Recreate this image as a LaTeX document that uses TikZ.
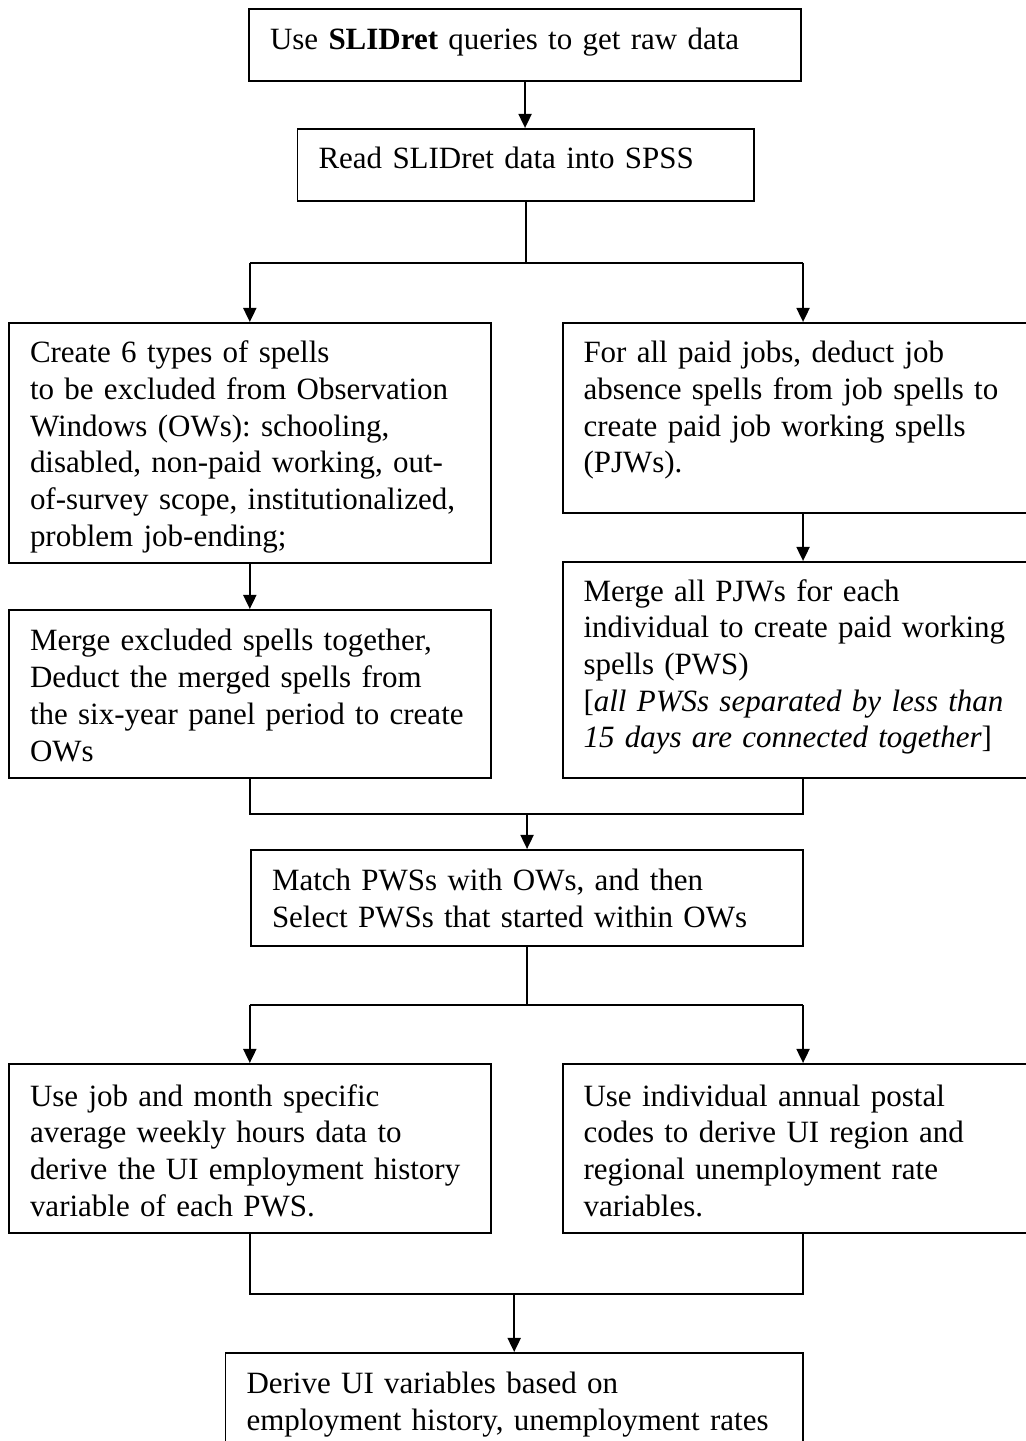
\documentclass[tikz,border=0pt]{standalone}
\usepackage{fontspec}
\setmainfont{Liberation Serif}
\usetikzlibrary{arrows.meta}
\hyphenpenalty=10000
\exhyphenpenalty=10000
\frenchspacing
\tikzset{
	box/.style={draw, line width=0.75pt, anchor=north west, align=left, inner xsep=7.9pt, inner ysep=0pt, font=\fontsize{11.65}{13.8}\selectfont},
	arr/.style={line width=0.75pt, -{Triangle[length=5.3pt,width=4.9pt]}},
	lnk/.style={line width=0.75pt}
}

\begin{document}
\begin{tikzpicture}[x=0.376pt, y=-0.376pt]
			%%%%% START %%%%%
			\useasboundingbox (0,0) rectangle (1026,1441);
			\clip (0,0) rectangle (1026,1441);
			
			\node[box, text width=191.8pt, text height=15.4pt, text depth=11.7pt] (query) at (248,8) {Use \textbf{SLIDret} queries to get raw data};
			\node[box, text width=155.9pt, text height=15.0pt, text depth=12.0pt] (spss) at (296.5,128) {Read SLIDret data into SPSS};
			
			\node[box, text width=165.3pt, text height=15.0pt, text depth=75.2pt] (excl) at (8,322) {Create 6 types of spells\\to be excluded from Observation\\Windows (OWs): schooling,\\disabled, non-paid working, out-\\of-survey scope, institutionalized,\\problem job-ending;};
			\node[box, text width=165.1pt, text height=15.0pt, text depth=56.4pt] (pjw) at (561.5,322) {For all paid jobs, deduct job\\absence spells from job spells to\\create paid job working spells\\(PJWs).};
			
			\node[box, text width=165.3pt, text height=15.4pt, text depth=47.8pt] (ows) at (8,609) {Merge excluded spells together,\\Deduct the merged spells from\\the six-year panel period to create\\OWs};
			\node[box, text width=165.1pt, text height=14.7pt, text depth=66.6pt] (pws) at (561.5,561) {Merge all PJWs for each\\individual to create paid working\\spells (PWS)\\{[}\textit{all PWSs separated by less than}\\\textit{15 days are connected together}{]}};
			
			\node[box, text width=191.8pt, text height=15.4pt, text depth=20.7pt] (match) at (250,849) {Match PWSs with OWs, and then\\Select PWSs that started within OWs};
			
			\node[box, text width=165.3pt, text height=15.8pt, text depth=47.8pt] (hours) at (8,1063) {Use job and month specific\\average weekly hours data to\\derive the UI employment history\\variable of each PWS.};
			\node[box, text width=165.1pt, text height=15.8pt, text depth=47.8pt] (region) at (561.5,1063) {Use individual annual postal\\codes to derive UI region and\\regional unemployment rate\\variables.};
			
			\node[box, text width=201.3pt, text height=15.4pt, text depth=32.7pt] (uivar) at (224.5,1352) {Derive UI variables based on\\employment history, unemployment rates};
			
			\draw[arr] (query.south) -- (query.south |- spss.north);
			
			\draw[lnk] (spss.south) -- ++(0,61) coordinate (split1);
			\draw[lnk] (split1 -| excl.north) -- (split1 -| pjw.north);
			\draw[arr] (split1 -| excl.north) -- (excl.north);
			\draw[arr] (split1 -| pjw.north) -- (pjw.north);
			
			\draw[arr] (excl.south) -- (ows.north);
			\draw[arr] (pjw.south) -- (pws.north);
			
			\draw[lnk] (ows.south) -- ++(0,35) coordinate (join1) -| (pws.south);
			\draw[arr] (join1 -| match.north) -- (match.north);
			
			\draw[lnk] (match.south) -- ++(0,58) coordinate (split2);
			\draw[lnk] (split2 -| hours.north) -- (split2 -| region.north);
			\draw[arr] (split2 -| hours.north) -- (hours.north);
			\draw[arr] (split2 -| region.north) -- (region.north);
			
			\draw[lnk] (hours.south) -- ++(0,60) coordinate (join2) -| (region.south);
			\draw[arr] (join2 -| uivar.north) -- (uivar.north);
			
			%%%%% END %%%%%
\end{tikzpicture}
\end{document}
